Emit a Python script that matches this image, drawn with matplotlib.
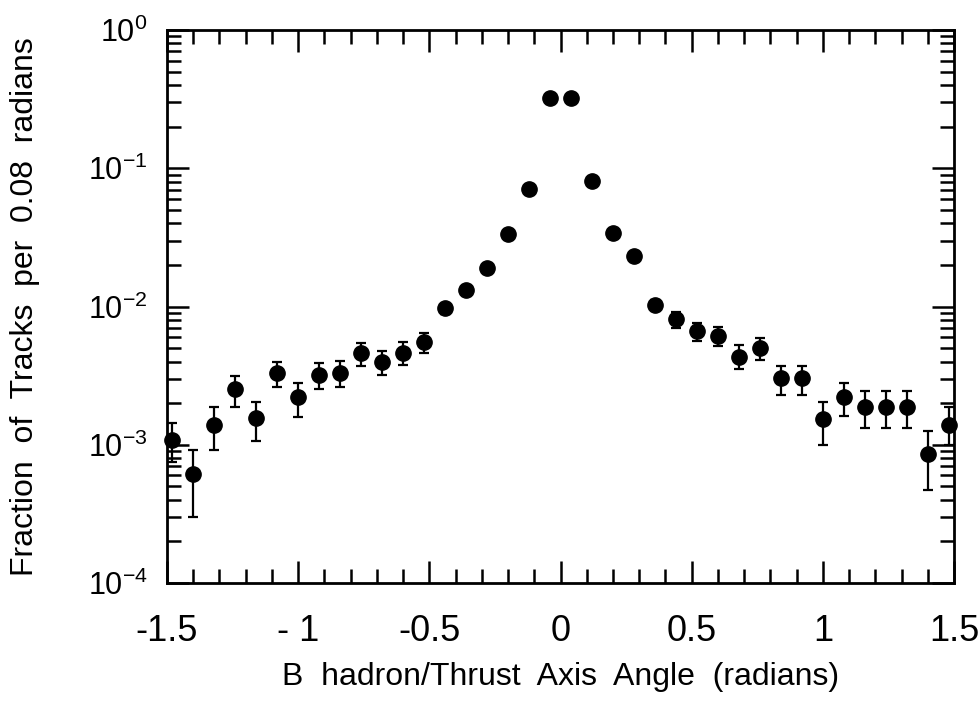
import matplotlib
matplotlib.use("Agg")
import matplotlib.pyplot as plt
from matplotlib.ticker import LogLocator, MultipleLocator

# bin centres (radians), 0.08 wide bins
angle = [-1.48, -1.40, -1.32, -1.24, -1.16, -1.08, -1.00, -0.92, -0.84, -0.76,
         -0.68, -0.60, -0.52, -0.44, -0.36, -0.28, -0.20, -0.12, -0.04,
         0.04, 0.12, 0.20, 0.28, 0.36, 0.44, 0.52, 0.60, 0.68, 0.76,
         0.84, 0.92, 1.00, 1.08, 1.16, 1.24, 1.32, 1.40, 1.48]

fraction = [1.08e-3, 0.61e-3, 1.39e-3, 2.52e-3, 1.55e-3, 3.32e-3, 2.23e-3, 3.19e-3, 3.32e-3, 4.58e-3,
            3.99e-3, 4.63e-3, 5.56e-3, 9.7e-3, 1.32e-2, 1.91e-2, 3.33e-2, 7.05e-2, 0.32,
            0.32, 8.09e-2, 3.38e-2, 2.32e-2, 1.03e-2, 8.1e-3, 6.65e-3, 6.15e-3, 4.29e-3, 5.04e-3,
            3.02e-3, 3.02e-3, 1.53e-3, 2.23e-3, 1.88e-3, 1.88e-3, 1.88e-3, 0.86e-3, 1.39e-3]

err_low = [0.33e-3, 0.31e-3, 0.47e-3, 0.64e-3, 0.48e-3, 0.72e-3, 0.63e-3, 0.67e-3, 0.72e-3, 0.85e-3,
           0.80e-3, 0.85e-3, 0.98e-3, 0.9e-3, 0.6e-3, 0, 0, 0, 0,
           0, 0, 0, 0, 0.8e-3, 1.15e-3, 1.03e-3, 0.95e-3, 0.76e-3, 0.94e-3,
           0.73e-3, 0.73e-3, 0.53e-3, 0.62e-3, 0.55e-3, 0.55e-3, 0.55e-3, 0.39e-3, 0.40e-3]

err_high = [0.36e-3, 0.31e-3, 0.49e-3, 0.62e-3, 0.50e-3, 0.67e-3, 0.58e-3, 0.69e-3, 0.72e-3, 0.89e-3,
            0.80e-3, 0.93e-3, 0.84e-3, 0.7e-3, 0.6e-3, 0, 0, 0, 0,
            0, 0, 0, 0, 0.8e-3, 1.07e-3, 0.99e-3, 0.99e-3, 0.98e-3, 0.91e-3,
            0.69e-3, 0.69e-3, 0.52e-3, 0.58e-3, 0.58e-3, 0.58e-3, 0.58e-3, 0.40e-3, 0.48e-3]

x_ticks = [-1.5, -1.0, -0.5, 0.0, 0.5, 1.0, 1.5]
x_tick_labels = ["-1.5", "- 1", "-0.5", "0", "0.5", "1", "1.5"]

plt.rcParams['font.family'] = ['Liberation Sans', 'DejaVu Sans']
plt.rcParams['mathtext.default'] = 'regular'
plt.rcParams['axes.unicode_minus'] = False

fig = plt.figure(figsize=(9.8, 7.03), dpi=100)
ax = fig.add_axes([0.1704, 0.1707, 0.8031, 0.7866])

ax.errorbar(angle, fraction, yerr=[err_low, err_high], fmt='o', color='black',
            markersize=11, elinewidth=1.6, capsize=3.5, capthick=1.6, clip_on=False)

ax.set_yscale('log')
ax.set_ylim(1e-4, 1)
ax.set_xlim(-1.5, 1.5)

ax.set_xticks(x_ticks, x_tick_labels)
ax.xaxis.set_minor_locator(MultipleLocator(0.1))
ax.yaxis.set_major_locator(LogLocator(base=10, numticks=10))
ax.yaxis.set_minor_locator(LogLocator(base=10, subs=range(2, 10), numticks=10))

for side in ['left', 'right', 'top', 'bottom']:
    ax.spines[side].set_linewidth(2)

ax.tick_params(which='both', direction='in', top=True, right=True, width=1.8)
ax.tick_params(which='major', length=16)
ax.tick_params(which='minor', length=10)
ax.tick_params(axis='x', which='major', labelsize=26, pad=22)
ax.tick_params(axis='y', which='major', labelsize=22, pad=14)

ax.set_xlabel("B  hadron/Thrust  Axis  Angle  (radians)", fontsize=23, labelpad=10)
ax.set_ylabel("Fraction  of  Tracks  per  0.08  radians", fontsize=23, labelpad=34)

fig.savefig("out.png", dpi=100)
